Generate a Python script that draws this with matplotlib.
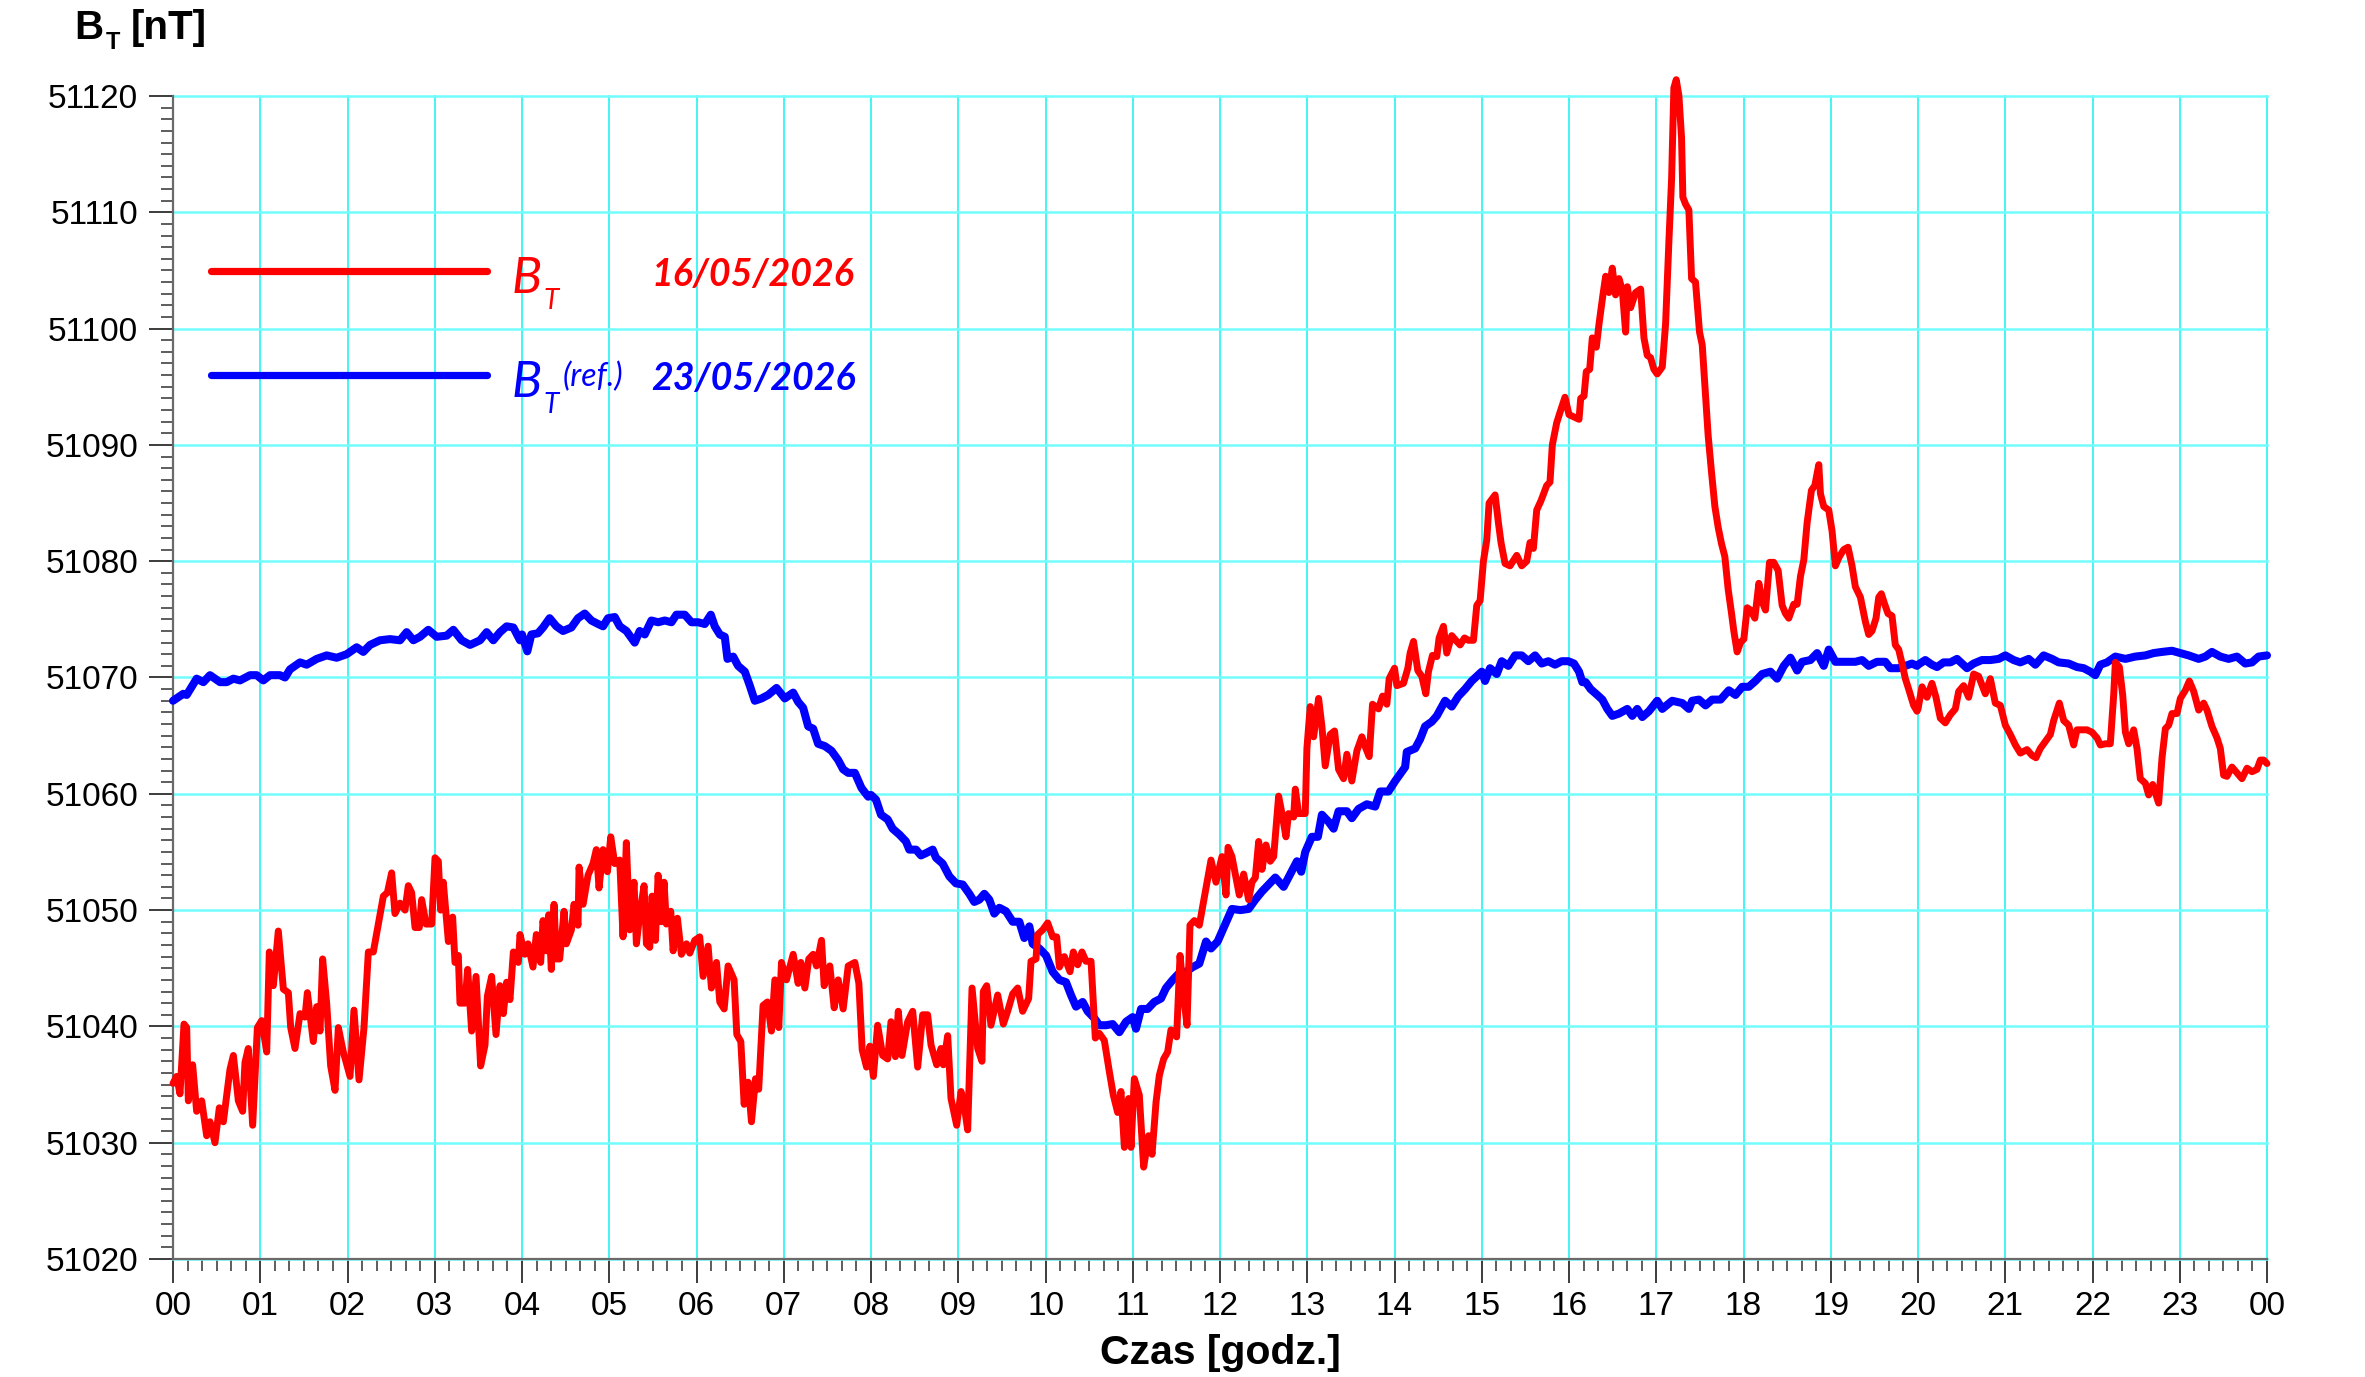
import matplotlib
matplotlib.use("Agg")
import matplotlib.pyplot as plt
from matplotlib.ticker import MultipleLocator, StrMethodFormatter, FixedLocator, FixedFormatter
from matplotlib.lines import Line2D

plt.rcParams['font.family'] = ['Liberation Sans', 'DejaVu Sans']

# ---------------- data (time in hours, B_T in nT) ----------------
red_t = [
    0.000, 0.042, 0.080, 0.126, 0.157, 0.176, 0.225, 0.271, 0.329, 0.386,
    0.424, 0.481, 0.531, 0.577, 0.653, 0.692, 0.749, 0.798, 0.825, 0.863,
    0.913, 0.967, 1.016, 1.074, 1.104, 1.150, 1.207, 1.265, 1.322, 1.349,
    1.398, 1.456, 1.513, 1.540, 1.608, 1.647, 1.685, 1.715, 1.761, 1.807,
    1.857, 1.895, 1.952, 2.029, 2.074, 2.132, 2.189, 2.239, 2.296, 2.353,
    2.411, 2.457, 2.506, 2.544, 2.602, 2.659, 2.697, 2.735, 2.774, 2.823,
    2.850, 2.900, 2.965, 3.003, 3.041, 3.068, 3.098, 3.156, 3.205, 3.232,
    3.270, 3.289, 3.347, 3.377, 3.423, 3.473, 3.526, 3.576, 3.603, 3.652,
    3.702, 3.748, 3.786, 3.824, 3.862, 3.901, 3.958, 3.977,
    4.031, 4.069, 4.126, 4.164, 4.214, 4.241, 4.279, 4.306, 4.336, 4.367,
    4.394, 4.432, 4.482, 4.508, 4.566, 4.596, 4.642, 4.654, 4.700, 4.757,
    4.814, 4.852, 4.883, 4.929, 4.979, 5.017, 5.063, 5.120, 5.158, 5.196,
    5.235, 5.284, 5.311, 5.349, 5.399, 5.426, 5.464, 5.491, 5.529, 5.560,
    5.598, 5.628, 5.655, 5.705, 5.732, 5.781, 5.827, 5.885, 5.923, 5.980,
    6.037, 6.076, 6.133, 6.171, 6.229, 6.267, 6.317, 6.362, 6.431, 6.462,
    6.508, 6.546, 6.592, 6.630, 6.676, 6.713, 6.763, 6.813, 6.859, 6.898,
    6.943, 6.974, 7.031, 7.108, 7.165, 7.196, 7.242, 7.287, 7.337, 7.375,
    7.433, 7.463, 7.528, 7.578, 7.624, 7.681, 7.739, 7.815, 7.861, 7.899,
    7.949, 7.987,
    8.027, 8.076, 8.134, 8.191, 8.229, 8.279, 8.313, 8.355, 8.420, 8.478,
    8.535, 8.592, 8.649, 8.688, 8.753, 8.802, 8.829, 8.879, 8.917, 8.982,
    9.032, 9.062, 9.108, 9.158, 9.223, 9.272, 9.287, 9.326, 9.375, 9.452,
    9.517, 9.566, 9.624, 9.681, 9.738, 9.807, 9.834, 9.891, 9.910, 9.968,
    10.025, 10.082, 10.128, 10.159, 10.216, 10.281, 10.319, 10.369, 10.418, 10.464,
    10.522, 10.571, 10.617, 10.674, 10.732, 10.777, 10.827, 10.865, 10.904, 10.953,
    10.980, 11.018, 11.075, 11.125, 11.182, 11.221, 11.267, 11.305, 11.354, 11.400,
    11.438, 11.503, 11.542, 11.591, 11.622, 11.656, 11.706, 11.763, 11.801, 11.840,
    11.897, 11.954, 12.023,
    12.069, 12.092, 12.137, 12.183, 12.221, 12.271, 12.328, 12.366, 12.405, 12.443,
    12.481, 12.527, 12.576, 12.615, 12.672, 12.710, 12.756, 12.786, 12.844, 12.863,
    12.901, 12.977, 12.996, 13.034, 13.073, 13.130, 13.168, 13.206, 13.263, 13.313,
    13.359, 13.416, 13.454, 13.511, 13.569, 13.626, 13.672, 13.710, 13.748, 13.817,
    13.863, 13.912, 13.939, 14.000, 14.027, 14.103, 14.153, 14.179, 14.218, 14.267,
    14.313, 14.359, 14.389, 14.435, 14.485, 14.511, 14.561, 14.599, 14.656, 14.702,
    14.752, 14.802, 14.847, 14.905, 14.943, 14.981, 15.019, 15.057, 15.084, 15.153,
    15.191, 15.221, 15.267, 15.324, 15.401, 15.458, 15.515, 15.553, 15.592, 15.630,
    15.679, 15.744, 15.782, 15.809, 15.859, 15.897, 15.954,
    16.000, 16.057, 16.115, 16.134, 16.172, 16.198, 16.237, 16.267, 16.313, 16.344,
    16.389, 16.420, 16.458, 16.496, 16.534, 16.573, 16.611, 16.649, 16.668, 16.706,
    16.763, 16.821, 16.859, 16.897, 16.935, 16.973, 17.011, 17.069, 17.107, 17.145,
    17.176, 17.202, 17.229, 17.260, 17.290, 17.305, 17.336, 17.374, 17.405, 17.450,
    17.496, 17.527, 17.557, 17.595, 17.634, 17.672, 17.710, 17.748, 17.786, 17.824,
    17.863, 17.889, 17.927, 17.966, 18.004, 18.042, 18.080, 18.130, 18.176, 18.214,
    18.252, 18.298, 18.347, 18.397, 18.443, 18.481, 18.519, 18.576, 18.615, 18.653,
    18.691, 18.729, 18.779, 18.817, 18.863, 18.882, 18.920, 18.977, 19.015, 19.053,
    19.099, 19.149, 19.198, 19.244, 19.282, 19.340, 19.397, 19.435, 19.473, 19.519,
    19.550, 19.580, 19.618, 19.656, 19.702, 19.740, 19.779, 19.817, 19.855, 19.893,
    19.950, 19.989,
    20.000, 20.046, 20.103, 20.160, 20.206, 20.256, 20.313, 20.371, 20.428, 20.466,
    20.523, 20.581, 20.638, 20.695, 20.772, 20.829, 20.886, 20.944, 21.001, 21.058,
    21.116, 21.173, 21.249, 21.307, 21.352, 21.402, 21.459, 21.517, 21.555, 21.620,
    21.670, 21.727, 21.784, 21.822, 21.880, 21.937, 21.994, 22.052, 22.090, 22.147,
    22.204, 22.243, 22.262, 22.308, 22.346, 22.377, 22.415, 22.472, 22.510, 22.548,
    22.606, 22.644, 22.690, 22.728, 22.758, 22.797, 22.835, 22.873, 22.911, 22.968,
    23.007, 23.064, 23.110, 23.160, 23.217, 23.274, 23.312, 23.369, 23.427, 23.465,
    23.503, 23.541, 23.598, 23.656, 23.713, 23.771, 23.828, 23.885, 23.924, 23.962,
    24.000,
]
red_v = [
    51035.1, 51035.7, 51034.2, 51040.2, 51039.9, 51033.6, 51036.7, 51032.7, 51033.6, 51030.6,
    51031.8, 51030.0, 51033.0, 51031.8, 51036.3, 51037.5, 51033.6, 51032.7, 51036.9, 51038.1,
    51031.5, 51039.9, 51040.5, 51037.8, 51046.4, 51043.5, 51048.2, 51043.2, 51042.9, 51039.9,
    51038.1, 51041.1, 51040.8, 51042.9, 51038.7, 51041.7, 51039.6, 51045.8, 51042.0, 51036.6,
    51034.5, 51039.9, 51037.8, 51035.7, 51041.4, 51035.4, 51039.9, 51046.4, 51046.4, 51048.8,
    51051.2, 51051.5, 51053.2, 51049.7, 51050.6, 51050.0, 51052.1, 51051.5, 51048.5, 51048.5,
    51050.9, 51048.8, 51048.8, 51054.5, 51054.2, 51050.0, 51052.4, 51047.3, 51049.4, 51045.5,
    51046.1, 51042.0, 51042.0, 51044.9, 51039.6, 51044.3, 51036.6, 51038.4, 51042.6, 51044.3,
    51039.3, 51043.5, 51041.1, 51043.8, 51042.3, 51046.4, 51045.5, 51047.9,
    51046.2, 51047.1, 51045.1, 51047.9, 51045.5, 51049.1, 51046.5, 51049.6, 51044.9, 51050.5,
    51045.8, 51045.8, 51049.9, 51047.1, 51048.3, 51050.5, 51048.7, 51053.7, 51050.5, 51053.0,
    51054.0, 51055.2, 51051.9, 51055.2, 51053.3, 51056.3, 51054.0, 51054.3, 51047.7, 51055.8,
    51048.3, 51052.4, 51047.1, 51049.6, 51052.1, 51047.1, 51046.8, 51051.2, 51047.4, 51053.0,
    51049.0, 51052.4, 51048.8, 51049.9, 51046.5, 51049.3, 51046.2, 51047.1, 51046.3, 51047.4,
    51047.7, 51044.3, 51046.9, 51043.3, 51045.5, 51042.1, 51041.5, 51045.2, 51044.0, 51039.3,
    51038.7, 51033.3, 51035.2, 51031.8, 51035.5, 51034.6, 51041.8, 51042.1, 51039.6, 51044.0,
    51039.9, 51045.5, 51044.0, 51046.2, 51043.7, 51045.5, 51043.3, 51045.8, 51046.2, 51045.2,
    51047.4, 51043.5, 51045.2, 51041.6, 51044.0, 51041.5, 51045.2, 51045.5, 51043.7, 51038.0,
    51036.5, 51038.3,
    51035.7, 51040.1, 51037.5, 51037.2, 51040.4, 51037.4, 51041.3, 51037.5, 51040.4, 51041.3,
    51036.5, 51041.0, 51041.0, 51038.4, 51036.7, 51038.1, 51036.7, 51039.2, 51033.8, 51031.5,
    51034.4, 51033.5, 51031.1, 51043.3, 51038.1, 51037.0, 51043.0, 51043.5, 51040.1, 51042.7,
    51040.2, 51041.3, 51042.8, 51043.3, 51041.3, 51042.4, 51045.6, 51045.8, 51047.9, 51048.3,
    51048.9, 51047.7, 51047.7, 51045.1, 51046.0, 51044.7, 51046.4, 51045.3, 51046.4, 51045.6,
    51045.6, 51039.0, 51039.4, 51038.8, 51036.1, 51034.1, 51032.6, 51034.4, 51029.6, 51033.8,
    51029.6, 51035.5, 51034.1, 51027.9, 51030.6, 51029.0, 51033.5, 51035.8, 51037.2, 51037.8,
    51039.7, 51039.1, 51046.1, 51042.1, 51040.1, 51048.7, 51049.1, 51048.7, 51050.3, 51051.9,
    51054.3, 51052.4, 51054.6,
    51051.3, 51055.4, 51054.6, 51052.8, 51051.3, 51053.1, 51050.9, 51052.4, 51052.8, 51055.9,
    51053.5, 51055.6, 51054.2, 51054.6, 51059.8, 51058.3, 51056.3, 51058.3, 51058.0, 51060.4,
    51058.3, 51058.3, 51063.9, 51067.5, 51064.9, 51068.2, 51065.8, 51062.4, 51065.1, 51065.4,
    51062.1, 51061.3, 51063.4, 51061.1, 51063.7, 51064.9, 51063.9, 51063.2, 51067.7, 51067.3,
    51068.4, 51067.7, 51069.9, 51070.8, 51069.3, 51069.5, 51070.8, 51072.1, 51073.1, 51070.6,
    51070.1, 51068.6, 51070.5, 51071.9, 51071.8, 51073.4, 51074.4, 51072.1, 51073.6, 51073.2,
    51072.8, 51073.4, 51073.2, 51073.2, 51076.2, 51076.6, 51080.0, 51081.8, 51085.0, 51085.7,
    51083.3, 51081.6, 51079.8, 51079.6, 51080.5, 51079.6, 51080.0, 51081.6, 51081.1, 51084.4,
    51085.2, 51086.5, 51086.8, 51090.0, 51091.9, 51092.8, 51094.1,
    51092.6, 51092.4, 51092.2, 51094.0, 51094.2, 51096.3, 51096.5, 51099.2, 51098.4, 51100.4,
    51102.9, 51104.5, 51103.1, 51105.2, 51102.9, 51104.3, 51103.3, 51099.7, 51103.6, 51101.8,
    51103.1, 51103.4, 51099.2, 51097.7, 51097.5, 51096.5, 51096.1, 51096.7, 51100.4, 51107.5,
    51112.9, 51120.7, 51121.4, 51120.0, 51116.4, 51111.3, 51110.7, 51110.2, 51104.3, 51104.0,
    51099.7, 51098.6, 51095.1, 51090.8, 51087.6, 51084.7, 51082.9, 51081.5, 51080.4, 51077.6,
    51075.5, 51074.0, 51072.2, 51073.0, 51073.3, 51076.0, 51075.8, 51075.1, 51078.1, 51076.5,
    51075.8, 51079.9, 51079.9, 51079.2, 51076.2, 51075.5, 51075.1, 51076.3, 51076.3, 51078.7,
    51080.1, 51083.3, 51086.1, 51086.5, 51088.3, 51085.8, 51084.7, 51084.4, 51082.6, 51079.6,
    51080.4, 51081.0, 51081.2, 51079.6, 51077.8, 51076.9, 51074.8, 51073.7, 51074.0, 51075.1,
    51076.9, 51077.2, 51076.3, 51075.5, 51075.3, 51072.8, 51072.4, 51071.2, 51069.9, 51069.0,
    51067.6, 51067.1,
    51067.3, 51069.2, 51068.3, 51069.5, 51068.3, 51066.5, 51066.1, 51066.8, 51067.3, 51068.8,
    51069.3, 51068.3, 51070.3, 51070.1, 51068.6, 51069.9, 51067.8, 51067.6, 51065.9, 51065.1,
    51064.2, 51063.5, 51063.8, 51063.3, 51063.1, 51063.9, 51064.5, 51065.1, 51066.3, 51067.8,
    51066.3, 51065.9, 51064.2, 51065.5, 51065.5, 51065.5, 51065.3, 51064.8, 51064.2, 51064.3,
    51064.3, 51068.5, 51071.3, 51070.9, 51068.5, 51065.3, 51064.3, 51065.5, 51063.9, 51061.3,
    51060.9, 51059.9, 51060.8, 51059.9, 51059.2, 51063.1, 51065.6, 51065.9, 51066.9, 51066.9,
    51068.2, 51068.9, 51069.7, 51068.8, 51067.2, 51067.8, 51067.2, 51065.8, 51064.8, 51063.9,
    51061.6, 51061.5, 51062.3, 51061.8, 51061.3, 51062.2, 51061.9, 51062.1, 51062.9, 51062.9,
    51062.6,
]

blue_t = [
    0.000, 0.118, 0.157, 0.271, 0.348, 0.424, 0.539, 0.615, 0.692, 0.768,
    0.883, 0.959, 1.035, 1.112, 1.226, 1.284, 1.341, 1.456, 1.532, 1.647,
    1.761, 1.876, 1.990, 2.105, 2.181, 2.258, 2.372, 2.487, 2.602, 2.678,
    2.755, 2.831, 2.926, 3.022, 3.137, 3.213, 3.308, 3.404, 3.519, 3.595,
    3.671, 3.748, 3.824, 3.901, 3.977,
    4.000, 4.061, 4.107, 4.183, 4.241, 4.317, 4.394, 4.470, 4.566, 4.642,
    4.719, 4.795, 4.872, 4.929, 4.986, 5.063, 5.120, 5.197, 5.292, 5.349,
    5.407, 5.483, 5.560, 5.636, 5.713, 5.770, 5.865, 5.942, 6.018, 6.095,
    6.164, 6.209, 6.267, 6.324, 6.355, 6.420, 6.477, 6.554, 6.611, 6.668,
    6.745, 6.821, 6.917, 7.012, 7.108, 7.165, 7.222, 7.280, 7.337, 7.394,
    7.471, 7.547, 7.624, 7.681, 7.739, 7.815, 7.891, 7.968,
    8.000, 8.057, 8.115, 8.191, 8.248, 8.325, 8.401, 8.439, 8.516, 8.573,
    8.630, 8.707, 8.745, 8.821, 8.898, 8.974, 9.051, 9.127, 9.184, 9.242,
    9.299, 9.356, 9.413, 9.471, 9.547, 9.624, 9.700, 9.757, 9.815, 9.853,
    9.929, 10.006, 10.082, 10.159, 10.235, 10.292, 10.350, 10.426, 10.483, 10.560,
    10.617, 10.693, 10.770, 10.846, 10.923, 10.999, 11.037, 11.095, 11.171, 11.247,
    11.324, 11.381, 11.458, 11.534, 11.610, 11.687, 11.763, 11.840, 11.897, 11.973,
    12.061, 12.137, 12.233, 12.328, 12.405, 12.481, 12.557, 12.634, 12.729, 12.805,
    12.882, 12.931, 12.977, 13.053, 13.122, 13.168, 13.244, 13.302, 13.359, 13.454,
    13.511, 13.588, 13.683, 13.779, 13.836, 13.931, 14.008, 14.122, 14.141, 14.237,
    14.294, 14.351, 14.427, 14.485, 14.580, 14.656, 14.733, 14.809, 14.885, 15.000,
    15.038, 15.095, 15.172, 15.229, 15.305, 15.382, 15.458, 15.534, 15.611, 15.687,
    15.763, 15.840, 15.916, 15.992,
    16.057, 16.115, 16.153, 16.191, 16.248, 16.324, 16.382, 16.439, 16.496, 16.573,
    16.668, 16.725, 16.782, 16.840, 16.916, 17.011, 17.069, 17.183, 17.298, 17.374,
    17.412, 17.489, 17.565, 17.641, 17.737, 17.832, 17.908, 17.985, 18.061, 18.137,
    18.214, 18.309, 18.385, 18.462, 18.538, 18.615, 18.672, 18.767, 18.844, 18.920,
    18.977, 19.053, 19.168, 19.282, 19.359, 19.435, 19.530, 19.626, 19.683, 19.779,
    19.855, 19.931, 19.989,
    20.000, 20.084, 20.160, 20.218, 20.294, 20.371, 20.447, 20.562, 20.638, 20.733,
    20.829, 20.925, 21.001, 21.096, 21.173, 21.268, 21.345, 21.440, 21.536, 21.612,
    21.727, 21.822, 21.899, 21.975, 22.032, 22.090, 22.166, 22.262, 22.377, 22.491,
    22.606, 22.701, 22.797, 22.911, 23.007, 23.102, 23.217, 23.293, 23.369, 23.465,
    23.560, 23.656, 23.751, 23.828, 23.904, 24.000,
]
blue_v = [
    51068.0, 51068.6, 51068.5, 51069.9, 51069.6, 51070.2, 51069.6, 51069.6, 51069.9, 51069.75,
    51070.2, 51070.2, 51069.75, 51070.2, 51070.2, 51070.0, 51070.7, 51071.3, 51071.1, 51071.6,
    51071.9, 51071.7, 51072.0, 51072.6, 51072.2, 51072.8, 51073.2, 51073.3, 51073.2, 51073.9,
    51073.2, 51073.5, 51074.1, 51073.5, 51073.6, 51074.1, 51073.2, 51072.8, 51073.2, 51073.9,
    51073.2, 51073.9, 51074.4, 51074.3, 51073.2,
    51073.7, 51072.25, 51073.7, 51073.8, 51074.3, 51075.1, 51074.4, 51074.0, 51074.3, 51075.1,
    51075.5, 51074.9, 51074.6, 51074.4, 51075.1, 51075.2, 51074.4, 51074.0, 51073.0, 51074.0,
    51073.7, 51074.9, 51074.75, 51074.9, 51074.75, 51075.4, 51075.4, 51074.75, 51074.75, 51074.6,
    51075.4, 51074.4, 51073.7, 51073.5, 51071.6, 51071.8, 51071.0, 51070.5, 51069.3, 51068.0,
    51068.2, 51068.5, 51069.1, 51068.2, 51068.7, 51067.9, 51067.4, 51065.8, 51065.6, 51064.3,
    51064.1, 51063.7, 51062.9, 51062.1, 51061.8, 51061.8, 51060.5, 51059.75,
    51059.9, 51059.5, 51058.2, 51057.8, 51057.0, 51056.5, 51055.9, 51055.2, 51055.2, 51054.7,
    51054.9, 51055.2, 51054.5, 51054.0, 51052.9, 51052.3, 51052.2, 51051.4, 51050.7, 51050.9,
    51051.4, 51050.9, 51049.7, 51050.2, 51049.9, 51049.0, 51049.0, 51047.6, 51048.6, 51047.1,
    51046.7, 51046.1, 51044.7, 51044.0, 51043.8, 51042.7, 51041.7, 51042.1, 51041.3, 51040.7,
    51040.1, 51040.1, 51040.2, 51039.5, 51040.4, 51040.8, 51039.8, 51041.5, 51041.5, 51042.1,
    51042.4, 51043.3, 51044.0, 51044.6, 51044.7, 51045.1, 51045.4, 51047.3, 51046.7, 51047.3,
    51048.8, 51050.1, 51050.0, 51050.1, 51050.9, 51051.6, 51052.2, 51052.8, 51052.0, 51053.1,
    51054.2, 51053.3, 51055.0, 51056.3, 51056.3, 51058.2, 51057.6, 51057.0, 51058.5, 51058.5,
    51057.9, 51058.7, 51059.1, 51058.9, 51060.2, 51060.2, 51061.1, 51062.3, 51063.6, 51063.9,
    51064.7, 51065.8, 51066.2, 51066.7, 51068.0, 51067.5, 51068.4, 51069.0, 51069.7, 51070.5,
    51069.7, 51070.8, 51070.3, 51071.4, 51071.0, 51071.9, 51071.9, 51071.4, 51071.9, 51071.2,
    51071.4, 51071.1, 51071.4, 51071.4,
    51071.2, 51070.5, 51069.6, 51069.6, 51069.0, 51068.5, 51068.1, 51067.3, 51066.7, 51066.9,
    51067.3, 51066.7, 51067.3, 51066.6, 51067.1, 51068.0, 51067.3, 51068.0, 51067.8, 51067.3,
    51068.0, 51068.1, 51067.6, 51068.1, 51068.1, 51068.9, 51068.5, 51069.2, 51069.2, 51069.7,
    51070.3, 51070.5, 51069.9, 51071.0, 51071.7, 51070.6, 51071.35, 51071.5, 51072.1, 51071.0,
    51072.4, 51071.35, 51071.35, 51071.35, 51071.5, 51071.0, 51071.35, 51071.35, 51070.8, 51070.8,
    51071.0, 51071.2, 51071.0,
    51071.1, 51071.5, 51071.1, 51070.9, 51071.3, 51071.3, 51071.6, 51070.8, 51071.2, 51071.5,
    51071.5, 51071.6, 51071.9, 51071.5, 51071.3, 51071.6, 51071.1, 51071.9, 51071.6, 51071.3,
    51071.2, 51070.9, 51070.8, 51070.5, 51070.2, 51071.1, 51071.3, 51071.8, 51071.6, 51071.8,
    51071.9, 51072.1, 51072.2, 51072.3, 51072.1, 51071.9, 51071.6, 51071.8, 51072.2, 51071.8,
    51071.6, 51071.8, 51071.2, 51071.3, 51071.8, 51071.9,
]

hour_ticks = list(range(25))
hour_labels = ['00', '01', '02', '03', '04', '05', '06', '07', '08', '09', '10', '11',
               '12', '13', '14', '15', '16', '17', '18', '19', '20', '21', '22', '23', '00']
y_min, y_max = 51020, 51120

series_dates = ['16/05/2026', '23/05/2026']
red_col = '#ff0000'
blue_col = '#0000ff'

# ---------------- figure ----------------
W, H = 2365, 1377
fig = plt.figure(figsize=(W / 100, H / 100), dpi=100)
L, R, T, B = 173, 2267, 96, 1259
ax = fig.add_axes([L / W, 1 - B / H, (R - L) / W, (B - T) / H])

ax.plot(blue_t, blue_v, color=blue_col, lw=5.8, solid_joinstyle='round',
        solid_capstyle='round', zorder=3, clip_on=False)
ax.plot(red_t, red_v, color=red_col, lw=5.0, solid_joinstyle='round',
        solid_capstyle='round', zorder=4, clip_on=False)

ax.set_xlim(0, 24)
ax.set_ylim(y_min, y_max)

ax.xaxis.set_major_locator(FixedLocator(hour_ticks))
ax.xaxis.set_major_formatter(FixedFormatter(hour_labels))
ax.xaxis.set_minor_locator(MultipleLocator(1 / 6))
ax.yaxis.set_major_locator(MultipleLocator(10))
ax.yaxis.set_minor_locator(MultipleLocator(1))
ax.yaxis.set_major_formatter(StrMethodFormatter('{x:.0f}'))

ax.tick_params(which='major', direction='out', length=17, width=1.4,
               color='#3c3c3c', labelsize=24, labelcolor='black')
ax.tick_params(axis='y', which='major', pad=8)
ax.tick_params(axis='x', which='major', pad=6)
ax.tick_params(which='minor', direction='out', length=8.6, width=1.3, color='#505050')

ax.set_axisbelow(True)
ax.grid(which='major', axis='y', color='#72fdfd', lw=1.8)
ax.grid(which='major', axis='x', color='#22f4f4', lw=1.2)
for gl in ax.get_xgridlines() + ax.get_ygridlines():
    gl.set_clip_on(False)

for s in ['top', 'right']:
    ax.spines[s].set_visible(False)
for s in ['left', 'bottom']:
    ax.spines[s].set_color('#6a6a6a')
    ax.spines[s].set_linewidth(1.6)


def fx(px):
    return px / W


def fy(py):
    return 1 - py / H


# y-axis title  B_T [nT]
fig.text(fx(74), fy(39), 'B', fontsize=29, fontweight='bold', va='baseline', ha='left')
fig.text(fx(106), fy(49), 'T', fontsize=17, fontweight='bold', va='baseline', ha='left')
fig.text(fx(131), fy(39), '[nT]', fontsize=29, fontweight='bold', va='baseline', ha='left')

# x-axis title
fig.text(fx((L + R) / 2), fy(1364), 'Czas [godz.]', fontsize=29.5, fontweight='bold',
         va='baseline', ha='center')

# legend
leg_font = ['Lato', 'DejaVu Sans']
for col, ly in [(red_col, 271), (blue_col, 375)]:
    fig.add_artist(Line2D([fx(211), fx(487)], [fy(ly), fy(ly)], transform=fig.transFigure,
                          color=col, lw=5.2, solid_capstyle='round'))

fig.text(fx(512), fy(293), 'B', fontsize=36, style='italic', family=leg_font,
         color=red_col, va='baseline', ha='left')
fig.text(fx(543), fy(309), 'T', fontsize=20, style='italic', family=leg_font,
         color=red_col, va='baseline', ha='left')
fig.text(fx(651), fy(286), series_dates[0], fontsize=27, style='italic', fontweight='bold',
         family=leg_font, color=red_col, va='baseline', ha='left')

fig.text(fx(512), fy(397), 'B', fontsize=36, style='italic', family=leg_font,
         color=blue_col, va='baseline', ha='left')
fig.text(fx(543), fy(413), 'T', fontsize=20, style='italic', family=leg_font,
         color=blue_col, va='baseline', ha='left')
fig.text(fx(563), fy(386), '(ref.)', fontsize=23, style='italic', family=leg_font,
         color=blue_col, va='baseline', ha='left')
fig.text(fx(651), fy(390), series_dates[1], fontsize=27, style='italic', fontweight='bold',
         family=leg_font, color=blue_col, va='baseline', ha='left')

fig.savefig('out.png', dpi=100, facecolor='white')
